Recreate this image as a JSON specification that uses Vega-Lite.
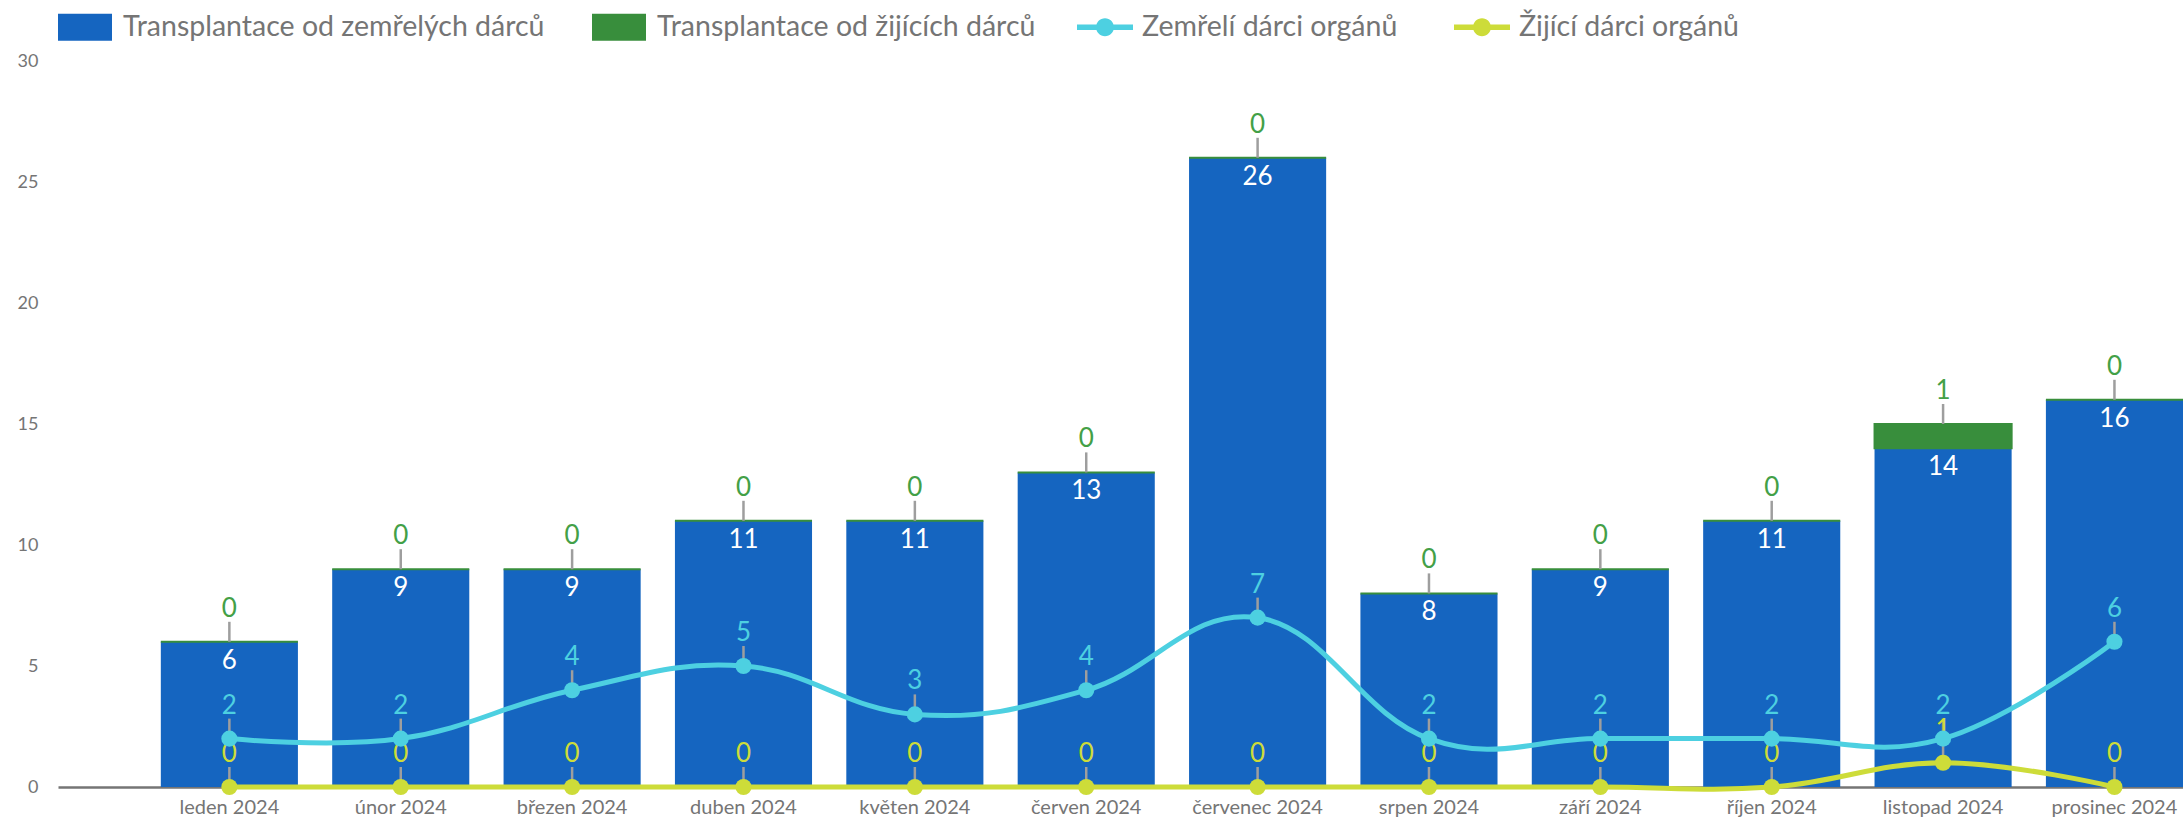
{
  "$schema": "https://vega.github.io/schema/vega-lite/v6.json",
  "width": 2125,
  "height": 726,
  "autosize": {"type": "none"},
  "padding": {"left": 58, "top": 61, "right": 0, "bottom": 32},
  "background": "white",
  "config": {
    "view": {"stroke": null},
    "font": "Lato",
    "axis": {"labelFont": "Lato", "labelColor": "#757575", "labelFontSize": 18},
    "legend": {"labelFont": "Lato", "labelColor": "#757575", "labelFontSize": 28.5, "labelLimit": 1000, "padding": 0, "titlePadding": 0}
  },
  "datasets": {
    "bars": [
      {"month": "leden 2024", "series": "Transplantace od zemřelých dárců", "value": 6},
      {"month": "leden 2024", "series": "Transplantace od žijících dárců", "value": 0},
      {"month": "únor 2024", "series": "Transplantace od zemřelých dárců", "value": 9},
      {"month": "únor 2024", "series": "Transplantace od žijících dárců", "value": 0},
      {"month": "březen 2024", "series": "Transplantace od zemřelých dárců", "value": 9},
      {"month": "březen 2024", "series": "Transplantace od žijících dárců", "value": 0},
      {"month": "duben 2024", "series": "Transplantace od zemřelých dárců", "value": 11},
      {"month": "duben 2024", "series": "Transplantace od žijících dárců", "value": 0},
      {"month": "květen 2024", "series": "Transplantace od zemřelých dárců", "value": 11},
      {"month": "květen 2024", "series": "Transplantace od žijících dárců", "value": 0},
      {"month": "červen 2024", "series": "Transplantace od zemřelých dárců", "value": 13},
      {"month": "červen 2024", "series": "Transplantace od žijících dárců", "value": 0},
      {"month": "červenec 2024", "series": "Transplantace od zemřelých dárců", "value": 26},
      {"month": "červenec 2024", "series": "Transplantace od žijících dárců", "value": 0},
      {"month": "srpen 2024", "series": "Transplantace od zemřelých dárců", "value": 8},
      {"month": "srpen 2024", "series": "Transplantace od žijících dárců", "value": 0},
      {"month": "září 2024", "series": "Transplantace od zemřelých dárců", "value": 9},
      {"month": "září 2024", "series": "Transplantace od žijících dárců", "value": 0},
      {"month": "říjen 2024", "series": "Transplantace od zemřelých dárců", "value": 11},
      {"month": "říjen 2024", "series": "Transplantace od žijících dárců", "value": 0},
      {"month": "listopad 2024", "series": "Transplantace od zemřelých dárců", "value": 14},
      {"month": "listopad 2024", "series": "Transplantace od žijících dárců", "value": 1},
      {"month": "prosinec 2024", "series": "Transplantace od zemřelých dárců", "value": 16},
      {"month": "prosinec 2024", "series": "Transplantace od žijících dárců", "value": 0}
    ],
    "donors": [
      {"month": "leden 2024", "series": "Zemřelí dárci orgánů", "value": 2},
      {"month": "únor 2024", "series": "Zemřelí dárci orgánů", "value": 2},
      {"month": "březen 2024", "series": "Zemřelí dárci orgánů", "value": 4},
      {"month": "duben 2024", "series": "Zemřelí dárci orgánů", "value": 5},
      {"month": "květen 2024", "series": "Zemřelí dárci orgánů", "value": 3},
      {"month": "červen 2024", "series": "Zemřelí dárci orgánů", "value": 4},
      {"month": "červenec 2024", "series": "Zemřelí dárci orgánů", "value": 7},
      {"month": "srpen 2024", "series": "Zemřelí dárci orgánů", "value": 2},
      {"month": "září 2024", "series": "Zemřelí dárci orgánů", "value": 2},
      {"month": "říjen 2024", "series": "Zemřelí dárci orgánů", "value": 2},
      {"month": "listopad 2024", "series": "Zemřelí dárci orgánů", "value": 2},
      {"month": "prosinec 2024", "series": "Zemřelí dárci orgánů", "value": 6},
      {"month": "leden 2024", "series": "Žijící dárci orgánů", "value": 0},
      {"month": "únor 2024", "series": "Žijící dárci orgánů", "value": 0},
      {"month": "březen 2024", "series": "Žijící dárci orgánů", "value": 0},
      {"month": "duben 2024", "series": "Žijící dárci orgánů", "value": 0},
      {"month": "květen 2024", "series": "Žijící dárci orgánů", "value": 0},
      {"month": "červen 2024", "series": "Žijící dárci orgánů", "value": 0},
      {"month": "červenec 2024", "series": "Žijící dárci orgánů", "value": 0},
      {"month": "srpen 2024", "series": "Žijící dárci orgánů", "value": 0},
      {"month": "září 2024", "series": "Žijící dárci orgánů", "value": 0},
      {"month": "říjen 2024", "series": "Žijící dárci orgánů", "value": 0},
      {"month": "listopad 2024", "series": "Žijící dárci orgánů", "value": 1},
      {"month": "prosinec 2024", "series": "Žijící dárci orgánů", "value": 0}
    ]
  },
  "encoding": {
    "x": {
      "field": "month", "type": "nominal", "title": null,
      "scale": {"domain": ["leden 2024", "únor 2024", "březen 2024", "duben 2024", "květen 2024", "červen 2024", "červenec 2024", "srpen 2024", "září 2024", "říjen 2024", "listopad 2024", "prosinec 2024"], "paddingInner": 0.2, "paddingOuter": 0.3, "align": 1},
      "axis": {"labelAngle": 0, "ticks": false, "tickSize": 0, "labelPadding": 10, "labelFontSize": 20, "domainColor": "#757575", "domainWidth": 2.5, "grid": false}
    }
  },
  "layer": [
    {
      "data": {"name": "bars"},
      "mark": {"type": "bar", "stroke": "#388E3C"},
      "encoding": {
        "y": {"field": "value", "type": "quantitative", "stack": "zero", "title": null,
          "scale": {"domain": [0, 30]},
          "axis": {"values": [0, 5, 10, 15, 20, 25, 30], "grid": false, "domain": false, "ticks": false, "tickSize": 0, "labelPadding": 20}},
        "fill": {"field": "series", "type": "nominal",
          "scale": {"domain": ["Transplantace od zemřelých dárců", "Transplantace od žijících dárců"], "range": ["#1565C0", "#388E3C"]},
          "legend": {"title": null, "orient": "none", "legendX": 0, "legendY": -61, "direction": "horizontal", "symbolType": "M-1,-0.5H1V0.5H-1Z", "symbolSize": 2916, "symbolStrokeWidth": 0, "labelOffset": 11, "columnPadding": 47}},
        "strokeWidth": {"condition": {"test": "datum.series === 'Transplantace od žijících dárců'", "value": 2}, "value": 0},
        "order": {"field": "series", "sort": "ascending"}
      }
    },
    {
      "data": {"name": "bars"},
      "transform": [{"filter": "datum.series === 'Transplantace od zemřelých dárců'"}],
      "mark": {"type": "text", "color": "white", "fontSize": 26, "dy": 19, "baseline": "middle"},
      "encoding": {
        "y": {"field": "value", "type": "quantitative"},
        "text": {"field": "value", "type": "quantitative"}
      }
    },
    {
      "data": {"name": "bars"},
      "mark": {"type": "point", "shape": "M0,0V-1", "filled": false, "stroke": "#9E9E9E", "strokeWidth": 2.5, "opacity": 1},
      "encoding": {
        "y": {"field": "value", "type": "quantitative", "stack": "zero"},
        "detail": {"field": "series"},
        "order": {"field": "series", "sort": "ascending"},
        "size": {"condition": {"test": "datum.series === 'Transplantace od zemřelých dárců'", "value": 0}, "value": 1600}
      }
    },
    {
      "data": {"name": "bars"},
      "mark": {"type": "text", "color": "#43A047", "fontSize": 26, "dy": -33, "baseline": "middle"},
      "encoding": {
        "y": {"field": "value", "type": "quantitative", "stack": "zero"},
        "detail": {"field": "series"},
        "order": {"field": "series", "sort": "ascending"},
        "text": {"condition": {"test": "datum.series === 'Transplantace od zemřelých dárců'", "value": ""}, "field": "value", "type": "quantitative"}
      }
    },
    {
      "data": {"name": "donors"},
      "mark": {"type": "line", "interpolate": "cardinal", "tension": -0.2, "strokeWidth": 5},
      "encoding": {
        "y": {"field": "value", "type": "quantitative"},
        "color": {"field": "series", "type": "nominal",
          "scale": {"domain": ["Zemřelí dárci orgánů", "Žijící dárci orgánů"], "range": ["#4DD0E1", "#CDDC39"]},
          "legend": {"title": null, "orient": "none", "legendX": 1019, "legendY": -62, "direction": "horizontal",
            "symbolType": "M-1,-0.1H1V0.1H-1Z M0.32,0A0.32,0.32 0 1,1 -0.32,0A0.32,0.32 0 1,1 0.32,0Z",
            "symbolSize": 3136, "labelOffset": 9, "columnPadding": 56,
            "encode": {"symbols": {"update": {"fill": {"scale": "color", "field": "value"}, "strokeWidth": {"value": 0}, "opacity": {"value": 1}}}}}
        }
      }
    },
    {
      "data": {"name": "donors"},
      "mark": {"type": "point", "shape": "M0,0V-1", "filled": false, "stroke": "#9E9E9E", "strokeWidth": 2.5, "opacity": 1, "size": 1600},
      "encoding": {
        "y": {"field": "value", "type": "quantitative"}
      }
    },
    {
      "data": {"name": "donors"},
      "mark": {"type": "text", "fontSize": 26, "dy": -33, "baseline": "middle"},
      "encoding": {
        "y": {"field": "value", "type": "quantitative"},
        "color": {"field": "series", "type": "nominal"},
        "text": {"field": "value", "type": "quantitative"}
      }
    },
    {
      "data": {"name": "donors"},
      "mark": {"type": "circle", "size": 260, "opacity": 1},
      "encoding": {
        "y": {"field": "value", "type": "quantitative"},
        "color": {"field": "series", "type": "nominal"}
      }
    }
  ]
}
